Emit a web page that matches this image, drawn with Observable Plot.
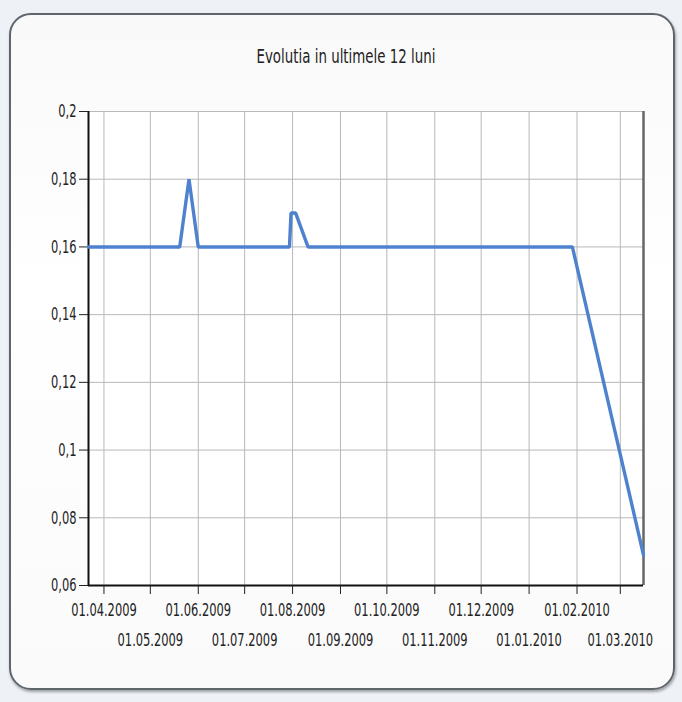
<!DOCTYPE html>
<html>
<head>
<meta charset="utf-8">
<script src="https://cdn.jsdelivr.net/npm/d3@7"></script>
<script src="https://cdn.jsdelivr.net/npm/@observablehq/plot@0.6"></script>
<style>
  html, body { margin: 0; padding: 0; }
  body { width: 682px; height: 702px; background: #eef2f6; overflow: hidden; }
  #wrap { position: relative; width: 682px; height: 702px; }
  #frame {
    position: absolute; left: 9px; top: 13px; width: 662px; height: 673px;
    border: 2px solid #5f656d; border-radius: 22px;
    background: linear-gradient(#f9f9f9, #ffffff 40%, #fafafa);
    box-shadow: 1px 2px 3px rgba(0,0,0,0.35);
  }
  #title {
    position: absolute; left: 0; width: 692px; top: 45px; text-align: center;
    font-family: "Liberation Sans Narrow", "Arial Narrow", "DejaVu Sans Condensed", sans-serif;
    font-size: 15.5px; color: #222; transform: scale(0.96, 1.3); transform-origin: center top;
  }
  #chart { position: absolute; left: 0; top: 0; }
</style>
</head>
<body>
<div id="wrap">
  <div id="frame"></div>
  <div id="title">Evolutia in ultimele 12 luni</div>
  <div id="chart"></div>
</div>
<script>
// Series
const dates  = ["2009-03-22", "2009-05-20", "2009-05-26", "2009-06-01", "2009-07-30", "2009-07-31", "2009-08-03", "2009-08-11", "2010-01-29", "2010-03-16"];
const values = [0.16, 0.16, 0.18, 0.16, 0.16, 0.17, 0.17, 0.16, 0.16, 0.069];

// Tick labels
const xTicks = ["2009-04-01", "2009-05-01", "2009-06-01", "2009-07-01", "2009-08-01", "2009-09-01", "2009-10-01", "2009-11-01", "2009-12-01", "2010-01-01", "2010-02-01", "2010-03-01"];
const yTicks = [0.06, 0.08, 0.1, 0.12, 0.14, 0.16, 0.18, 0.2];

const data = dates.map((d, i) => ({date: new Date(d + "T00:00:00Z"), value: values[i]}));
const xt = xTicks.map(d => new Date(d + "T00:00:00Z"));
const xtRow1 = xt.filter((d, i) => i % 2 === 0);
const xtRow2 = xt.filter((d, i) => i % 2 === 1);
const fmtDate = d3.utcFormat("%d.%m.%Y");
const fmtY = d => String(+d.toFixed(2)).replace(".", ",");
const x0 = data[0].date, x1 = data[data.length - 1].date;

const chart = Plot.plot({
  width: 682,
  height: 702,
  marginLeft: 88,
  marginRight: 39,
  marginTop: 111,
  marginBottom: 117,
  style: {background: "transparent", fontFamily: "'Liberation Sans Narrow', 'Arial Narrow', 'DejaVu Sans Condensed', sans-serif", fontSize: "15px", color: "#222"},
  x: {type: "utc", domain: [x0, x1]},
  y: {domain: [0.06, 0.2]},
  marks: [
    Plot.frame({fill: "white", stroke: "none"}),
    Plot.gridX({ticks: xt, stroke: "#b8b8b8", strokeOpacity: 1}),
    Plot.gridY({ticks: yTicks, stroke: "#b8b8b8", strokeOpacity: 1}),
    Plot.ruleX([x1], {stroke: "#666", strokeWidth: 2.5}),
    Plot.ruleX([x0], {stroke: "#111", strokeWidth: 2}),
    Plot.ruleY([0.06], {stroke: "#111", strokeWidth: 2}),
    Plot.axisY({ticks: yTicks, tickFormat: fmtY, tickSize: 9, tickPadding: 3, label: null}),
    Plot.axisX({ticks: xtRow1, tickFormat: fmtDate, tickSize: 9, tickPadding: 9, label: null}),
    Plot.axisX({ticks: xtRow2, tickFormat: fmtDate, tickSize: 9, tickPadding: 39, label: null}),
    Plot.line(data, {x: "date", y: "value", stroke: "#4e82cf", strokeWidth: 3.4, strokeLinejoin: "miter"})
  ]
});
// condense and stretch the tick labels, as in the reference picture
chart.querySelectorAll("text").forEach(t => {
  const tr = t.getAttribute("transform") || "";
  t.setAttribute("transform", tr + " scale(0.85,1.2)");
});
document.getElementById("chart").appendChild(chart);
</script>
</body>
</html>
